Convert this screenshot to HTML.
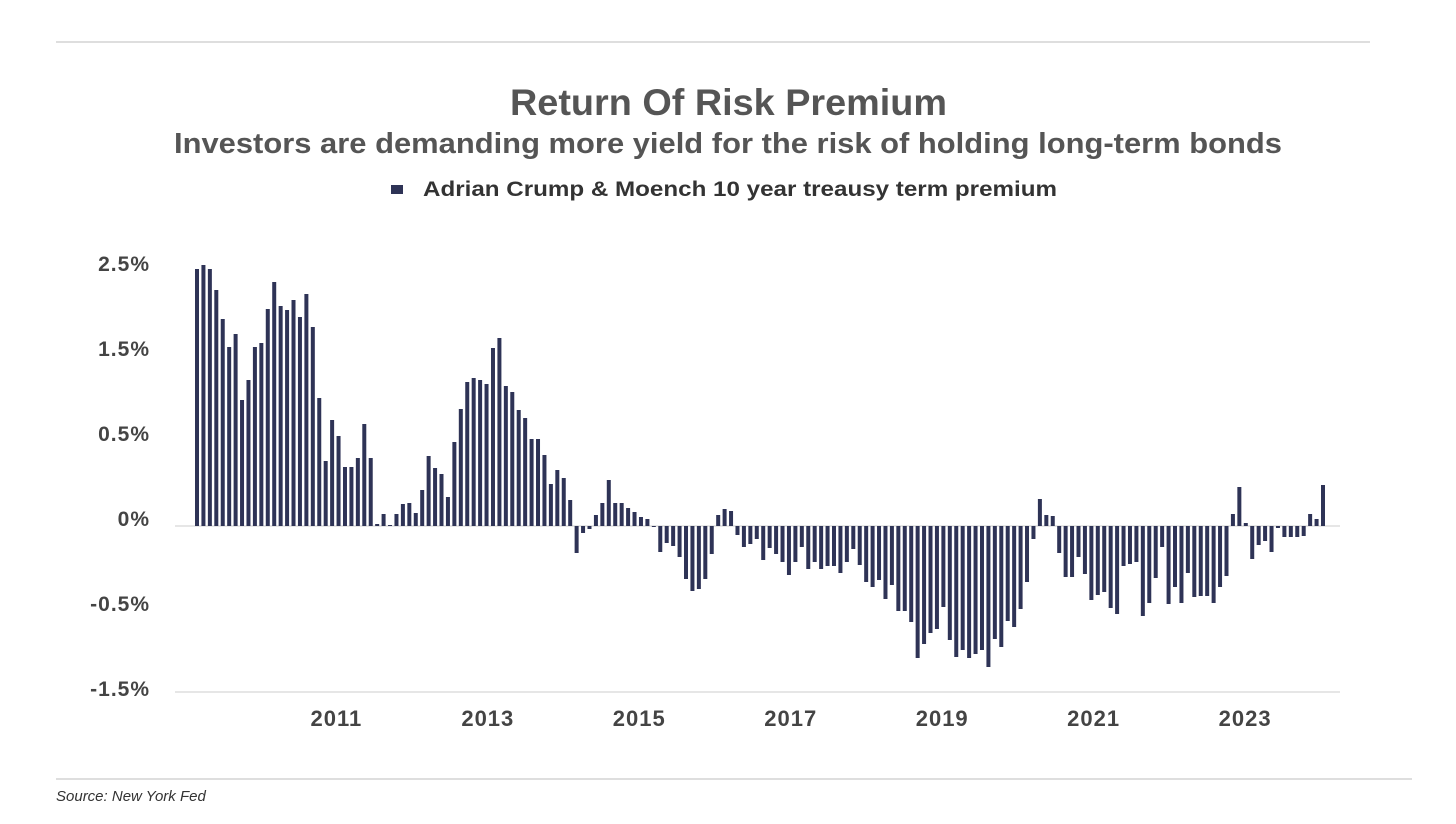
<!DOCTYPE html>
<html><head><meta charset="utf-8">
<style>
body{margin:0;background:#fff;width:1456px;height:819px;overflow:hidden;font-family:"Liberation Sans",sans-serif;}
svg text{font-family:"Liberation Sans",sans-serif;}
</style></head>
<body>
<svg id="chart" width="1456" height="819" viewBox="0 0 1456 819" xmlns="http://www.w3.org/2000/svg">
<line x1="56" y1="42" x2="1370" y2="42" stroke="#d4d4d4" stroke-width="1.5"/>
<text x="510" y="115" textLength="437" lengthAdjust="spacingAndGlyphs" font-size="37" font-weight="bold" fill="#555">Return Of Risk Premium</text>
<text x="174" y="153" textLength="1108" lengthAdjust="spacingAndGlyphs" font-size="29" font-weight="bold" fill="#555">Investors are demanding more yield for the risk of holding long-term bonds</text>
<g>
<rect x="391" y="185" width="12" height="9" fill="#2e3356"/>
<text x="423" y="196" textLength="634" lengthAdjust="spacingAndGlyphs" font-size="21" font-weight="bold" fill="#333">Adrian Crump &amp; Moench 10 year treausy term premium</text>
</g>
<g id="yaxis"></g>
<g id="xaxis"></g>
<line x1="175" y1="526" x2="1340" y2="526" stroke="#ddd" stroke-width="1.5"/>
<line x1="175" y1="692" x2="1340" y2="692" stroke="#ddd" stroke-width="1.5"/>
<g id="bars"></g>
<line x1="56" y1="779" x2="1412" y2="779" stroke="#d4d4d4" stroke-width="1.5"/>
<text x="56" y="801" font-size="15" font-style="italic" fill="#333">Source: New York Fed</text>
</svg>
<script>
const values = [
2.57,2.61,2.57,2.36,2.07,1.79,1.92,1.26,1.46,1.79,1.83,2.17,2.44,2.20,2.16,2.26,2.09,2.32,1.99,1.28,0.65,1.06,0.90,0.59,0.59,0.68,1.02,0.68,0.02,0.12,0.01,0.12,0.22,0.23,0.13,0.36,0.70,0.58,0.52,0.29,0.84,1.17,1.44,1.48,1.46,
1.42,1.78,1.88,1.40,1.34,1.16,1.08,0.87,0.87,0.71,0.42,0.56,0.48,0.26,-0.27,-0.07,-0.03,0.11,0.23,0.46,0.23,0.23,0.18,0.14,0.09,0.07,-0.01,-0.26,-0.17,-0.20,-0.31,-0.53,-0.65,-0.63,-0.53,-0.28,0.11,0.17,0.15,-0.09,-0.21,-0.18,-0.13,-0.34,-0.22,-0.28,
-0.36,-0.49,-0.36,-0.21,-0.43,-0.36,-0.43,-0.40,-0.40,-0.47,-0.36,-0.23,-0.39,-0.56,-0.61,-0.54,-0.73,-0.59,-0.85,-0.85,-0.96,-1.32,-1.18,-1.07,-1.03,-0.81,-1.14,-1.31,-1.24,-1.32,-1.28,-1.24,-1.41,-1.13,-1.21,-0.95,-1.01,-0.83,-0.56,-0.13,0.27,0.11,0.10,-0.27,-0.51,
-0.51,-0.31,-0.48,-0.74,-0.69,-0.66,-0.82,-0.88,-0.40,-0.38,-0.36,-0.90,-0.77,-0.52,-0.21,-0.78,-0.61,-0.77,-0.47,-0.71,-0.70,-0.70,-0.77,-0.61,-0.50,0.12,0.39,0.03,-0.33,-0.19,-0.15,-0.26,-0.02,-0.11,-0.11,-0.11,-0.10,0.12,0.07,0.41
];
const yTickValues = [2.62,1.77,0.92,0.07,-0.78,-1.63];
const yTickLabels = ["2.5%","1.5%","0.5%","0%","-0.5%","-1.5%"];
const xTickYears = [2011,2013,2015,2017,2019,2021,2023];
const startYear = 2009.16;
const barsPerYear = 11.77;

const NS = "http://www.w3.org/2000/svg";
const x0 = 197, x1 = 1323;
const step = (x1 - x0) / (values.length - 1);
function xScale(i){ return x0 + i * step; }
function yearToIndex(yr){ return (yr - startYear) * barsPerYear; }
function yScale(v){ return 526 - v * 100; }

const bars = document.getElementById('bars');
values.forEach((v, i) => {
  const r = document.createElementNS(NS, 'rect');
  
  
  const y0 = yScale(0), y = yScale(v);
  r.setAttribute('x', (xScale(i) - 2).toFixed(2));
  r.setAttribute('y', Math.min(y0, y).toFixed(2));
  r.setAttribute('width', 4);
  r.setAttribute('height', Math.max(1, Math.abs(y - y0)).toFixed(2));
  r.setAttribute('fill', '#2e3356');
  bars.appendChild(r);
});

const yaxis = document.getElementById('yaxis');
yTickValues.forEach((v, i) => {
  const t = document.createElementNS(NS, 'text');
  
  
  t.setAttribute('x', 150);
  t.setAttribute('y', yScale(v) + 7);
  t.setAttribute('text-anchor', 'end');
  t.setAttribute('font-size', '21');
  t.setAttribute('font-weight', 'bold');
  t.setAttribute('fill', '#444');
  t.setAttribute('letter-spacing', '1');
  t.textContent = yTickLabels[i];
  yaxis.appendChild(t);
});

const xaxis = document.getElementById('xaxis');
xTickYears.forEach(yr => {
  const t = document.createElementNS(NS, 'text');
  
  
  t.setAttribute('x', xScale(yearToIndex(yr)));
  t.setAttribute('y', 726);
  t.setAttribute('text-anchor', 'middle');
  t.setAttribute('font-size', '22');
  t.setAttribute('font-weight', 'bold');
  t.setAttribute('fill', '#444');
  t.setAttribute('letter-spacing', '1');
  t.textContent = yr;
  xaxis.appendChild(t);
});
</script>
</body></html>
